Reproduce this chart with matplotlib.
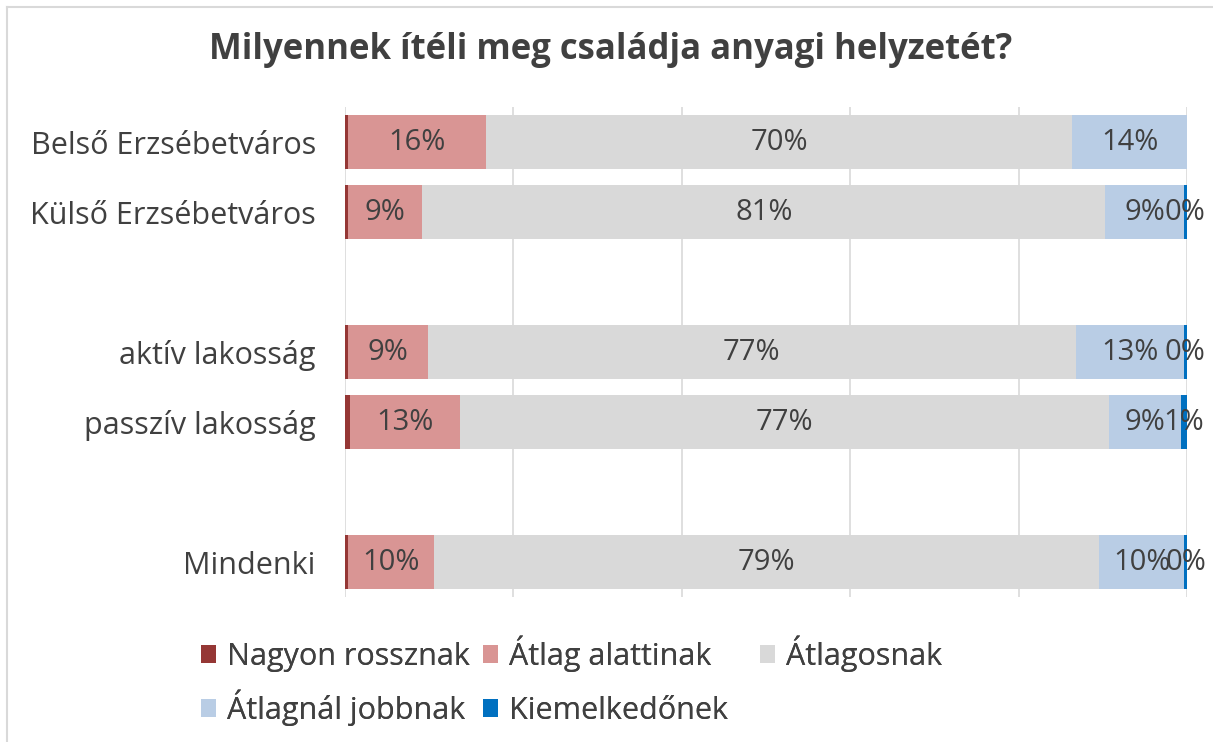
import numpy as np
import matplotlib
matplotlib.use('Agg')
import matplotlib.pyplot as plt
from matplotlib.lines import Line2D

plt.rcParams['font.family'] = ['Open Sans', 'DejaVu Sans']

# rows of the chart, None = empty spacer row
categories = ['Belső Erzsébetváros', 'Külső Erzsébetváros', None,
              'aktív lakosság', 'passzív lakosság', None, 'Mindenki']

series_names = ['Nagyon rossznak', 'Átlag alattinak', 'Átlagosnak',
                'Átlagnál jobbnak', 'Kiemelkedőnek']
nagyon_rossz = [0.4, 0.4, np.nan, 0.4, 0.6, np.nan, 0.4]
atlag_alatt = [16.3, 8.8, np.nan, 9.4, 13.0, np.nan, 10.2]
atlagos = [69.7, 81.1, np.nan, 77.0, 77.1, np.nan, 79.0]
jobb = [13.6, 9.3, np.nan, 12.8, 8.6, np.nan, 10.1]
kiemelkedo = [0.0, 0.4, np.nan, 0.4, 0.7, np.nan, 0.3]

colors = ['#953735', '#D99594', '#D9D9D9', '#B9CDE5', '#0070C0']
show_label = [False, True, True, True, True]
txt = '#404040'

fig = plt.figure(figsize=(12.13, 7.42), dpi=100)
ax = fig.add_axes([345/1213, 1-597/742, 842/1213, 490/742])

y = np.arange(len(categories))
left = np.zeros(len(categories))
handles = []
for name, vals, c, lab in zip(series_names,
                              [nagyon_rossz, atlag_alatt, atlagos, jobb, kiemelkedo],
                              colors, show_label):
    v = np.nan_to_num(np.array(vals, dtype=float))
    bars = ax.barh(y, v, left=left, height=0.76, color=c, label=name, zorder=2)
    handles.append(bars)
    if lab:
        for yi, (l, w) in enumerate(zip(left, v)):
            if categories[yi] is None or w <= 0:
                continue
            ax.text(l + w/2, yi, f'{w:.0f}%', ha='center', va='center',
                    fontsize=21, color=txt, zorder=3)
    left += v

ax.set_xlim(0, 100)
ax.set_ylim(len(categories) - 0.5, -0.5)
ax.set_xticks(np.arange(0, 101, 20))
ax.xaxis.grid(True, color='#D9D9D9', lw=1.2, zorder=0)
ax.tick_params(axis='x', length=0, labelbottom=False)
ax.set_yticks(y)
ax.set_yticklabels([c if c else '' for c in categories], fontsize=22, color=txt)
ax.tick_params(axis='y', length=0, pad=21)
for s in ax.spines.values():
    s.set_visible(False)

fig.text(611/1213, 1-50/742, 'Milyennek ítéli meg családja anyagi helyzetét?',
         ha='center', va='center', fontsize=25, fontweight='bold', color=txt)

# legend: Excel style grid, 3 equal columns, row-wise fill
# anchored at the bottom so the baselines line up
col_x = [201, 483, 760]
row_y = [672, 726]
for i, (h, name) in enumerate(zip(handles, series_names)):
    r, c = divmod(i, 3)
    leg = fig.legend([h], [name], loc='lower left',
                     bbox_to_anchor=(col_x[c]/1213, 1-row_y[r]/742),
                     frameon=False, fontsize=22, handlelength=0.5, handleheight=0.5,
                     handletextpad=0.35, borderpad=0, borderaxespad=0)
    leg.get_texts()[0].set_color(txt)
    fig.add_artist(leg)

# chart border (left and top visible)
fig.add_artist(Line2D([7/1213, 7/1213], [0, 1-7/742], transform=fig.transFigure,
                      color='#D9D9D9', lw=1.5))
fig.add_artist(Line2D([7/1213, 1], [1-7/742, 1-7/742], transform=fig.transFigure,
                      color='#D9D9D9', lw=1.5))

fig.savefig('out.png', dpi=100, facecolor='white')
